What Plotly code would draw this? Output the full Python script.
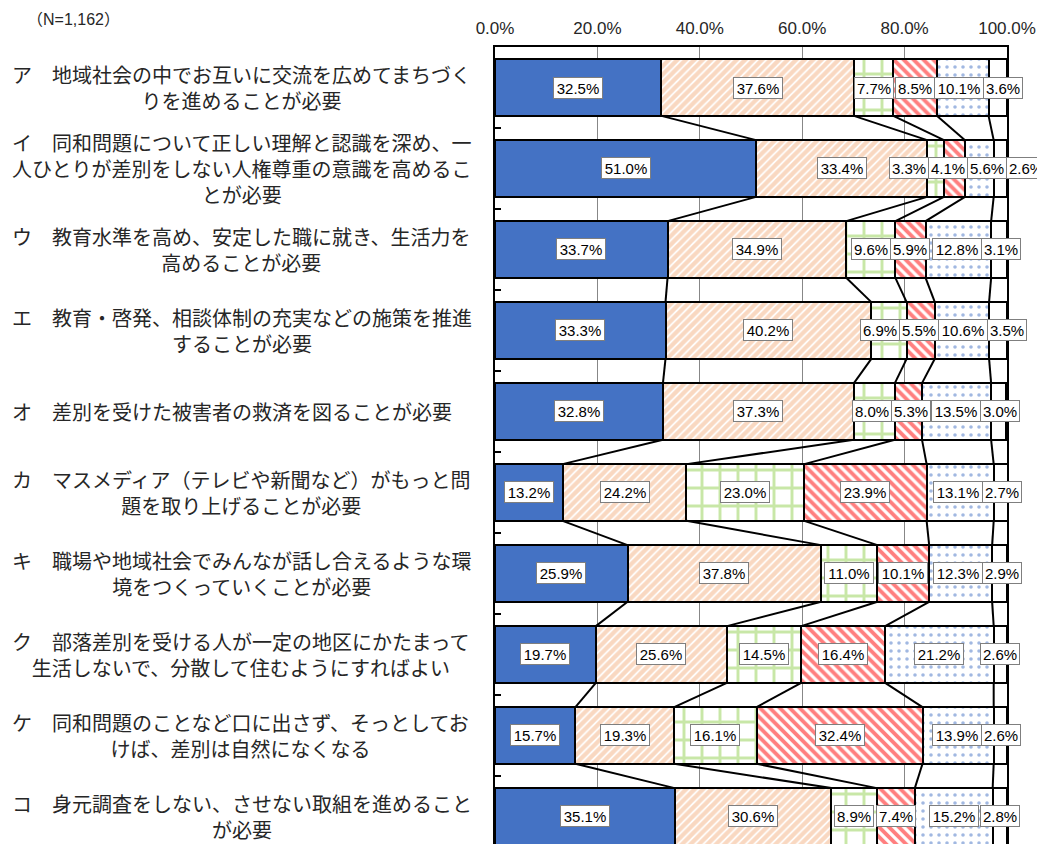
import plotly.graph_objects as go

# %% Data
items = [
    "ア　地域社会の中でお互いに交流を広めてまちづく<br>りを進めることが必要",
    "イ　同和問題について正しい理解と認識を深め、一<br>人ひとりが差別をしない人権尊重の意識を高めるこ<br>とが必要",
    "ウ　教育水準を高め、安定した職に就き、生活力を<br>高めることが必要",
    "エ　教育・啓発、相談体制の充実などの施策を推進<br>することが必要",
    "オ　差別を受けた被害者の救済を図ることが必要",
    "カ　マスメディア（テレビや新聞など）がもっと問<br>題を取り上げることが必要",
    "キ　職場や地域社会でみんなが話し合えるような環<br>境をつくっていくことが必要",
    "ク　部落差別を受ける人が一定の地区にかたまって<br>生活しないで、分散して住むようにすればよい",
    "ケ　同和問題のことなど口に出さず、そっとしてお<br>けば、差別は自然になくなる",
    "コ　身元調査をしない、させない取組を進めること<br>が必要",
]

sou_omou = [32.5, 51.0, 33.7, 33.3, 32.8, 13.2, 25.9, 19.7, 15.7, 35.1]
dochira_sou = [37.6, 33.4, 34.9, 40.2, 37.3, 24.2, 37.8, 25.6, 19.3, 30.6]
dochira_omowanai = [7.7, 3.3, 9.6, 6.9, 8.0, 23.0, 11.0, 14.5, 16.1, 8.9]
omowanai = [8.5, 4.1, 5.9, 5.5, 5.3, 23.9, 10.1, 16.4, 32.4, 7.4]
wakaranai = [10.1, 5.6, 12.8, 10.6, 13.5, 13.1, 12.3, 21.2, 13.9, 15.2]
mukaitou = [3.6, 2.6, 3.1, 3.5, 3.0, 2.7, 2.9, 2.6, 2.6, 2.8]

series = [
    ("そう思う", sou_omou),
    ("どちらかといえばそう思う", dochira_sou),
    ("どちらかといえばそう思わない", dochira_omowanai),
    ("そう思わない", omowanai),
    ("わからない", wakaranai),
    ("無回答", mukaitou),
]

x_ticks = [0, 20, 40, 60, 80, 100]

# %% Styles
styles = [
    dict(color="#4472C4"),
    dict(color="white", pattern=dict(shape="/", fgcolor="#F4B183", size=6, solidity=0.7, fillmode="overlay")),
    dict(color="white", pattern=dict(shape="+", fgcolor="#92D050", size=18, solidity=0.3, fillmode="overlay")),
    dict(color="white", pattern=dict(shape="\\", fgcolor="#FF0000", size=7, solidity=0.55, fillmode="overlay")),
    dict(color="white", pattern=dict(shape=".", fgcolor="#4472C4", size=8, solidity=0.16, fillmode="overlay")),
    dict(color="white"),
]

# page is offset by the 8px body margin
L, R, T = 487, 999, 39
W, H = 1037, 836
PX = (R - L) / 100.0  # px per percent
BAR_W = 0.7
n = len(items)
ypos = list(range(n))

fig = go.Figure()
for (name, vals), st in zip(series, styles):
    fig.add_trace(go.Bar(
        name=name, x=vals, y=ypos, orientation="h", width=BAR_W,
        marker=dict(line=dict(color="black", width=2), **st),
        showlegend=False, hoverinfo="skip",
    ))

# cumulative boundaries
cums = []
for i in range(n):
    c, row = 0.0, []
    for _, vals in series:
        c += vals[i]
        row.append(c)
    cums.append(row)

# series lines between consecutive bars
lx, ly = [], []
for i in range(n - 1):
    for k in range(len(series) - 1):
        lx += [cums[i][k], cums[i + 1][k], None]
        ly += [i + BAR_W / 2, i + 1 - BAR_W / 2, None]
fig.add_trace(go.Scatter(x=lx, y=ly, mode="lines", line=dict(color="black", width=2),
                         showlegend=False, hoverinfo="skip"))


def box_w(t):
    return 10 * len(t) - 5


# data labels with simple overlap avoidance (paper x so labels past 100% stay visible)
LBL_FONT = dict(family="Liberation Sans, Arial, sans-serif", size=15, color="black")
annotations = []
for i in range(n):
    texts = [f"{vals[i]:.1f}%" for _, vals in series]
    centers = [cums[i][k] - series[k][1][i] / 2 for k in range(len(series))]
    widths = [(box_w(t) + 4) / PX for t in texts]
    for _ in range(200):
        moved = False
        for k in range(len(centers) - 1):
            need = (widths[k] + widths[k + 1]) / 2
            gap = centers[k + 1] - centers[k]
            if gap < need - 1e-6:
                d = (need - gap) / 2
                centers[k] -= d
                centers[k + 1] += d
                moved = True
        if not moved:
            break
    for t, cx in zip(texts, centers):
        annotations.append(dict(
            x=cx / 100.0, y=i, xref="paper", yref="y", text=t, showarrow=False,
            xanchor="center", yanchor="middle",
            font=LBL_FONT, bgcolor="white", bordercolor="#7F7F7F", borderwidth=1,
            borderpad=1.5, width=box_w(t), align="center",
        ))

# category labels
for i, txt in enumerate(items):
    annotations.append(dict(
        x=(2 - L) / (R - L), y=i, xref="paper", yref="y", text=txt, showarrow=False,
        xanchor="left", yanchor="middle", align="center",
        font=dict(family="Noto Sans CJK JP", size=20, color="#262626"),
    ))

annotations.append(dict(
    x=(17 - L) / (R - L), y=1 + (T - 12) / (H - T), xref="paper", yref="paper",
    text="（N=1,162）", showarrow=False, xanchor="left", yanchor="middle",
    font=dict(family="Liberation Sans, Noto Sans CJK JP", size=16, color="#262626"),
))

fig.update_layout(
    barmode="stack", width=W, height=H,
    margin=dict(l=L, r=W - R, t=T, b=0),
    paper_bgcolor="white", plot_bgcolor="white",
    annotations=annotations, bargap=0,
)
fig.update_xaxes(
    range=[0, 100], side="top", tickvals=x_ticks, ticktext=[f"{v:.1f}%" for v in x_ticks],
    showgrid=True, gridcolor="#878787", gridwidth=1, zeroline=False,
    showline=True, linecolor="black", linewidth=2, mirror=False, ticks="",
    ticklabelstandoff=4,
    tickfont=dict(family="Liberation Sans, Arial, sans-serif", size=17, color="#262626"),
)
fig.update_yaxes(
    range=[9.34, -0.5], showticklabels=False, showgrid=False, zeroline=False,
    tickvals=[i + 0.5 for i in range(n - 1)], ticks="inside", ticklen=6, tickcolor="black", tickwidth=1.5,
    showline=True, mirror=True, linecolor="black", linewidth=2,
)

fig.write_html("out.html")
